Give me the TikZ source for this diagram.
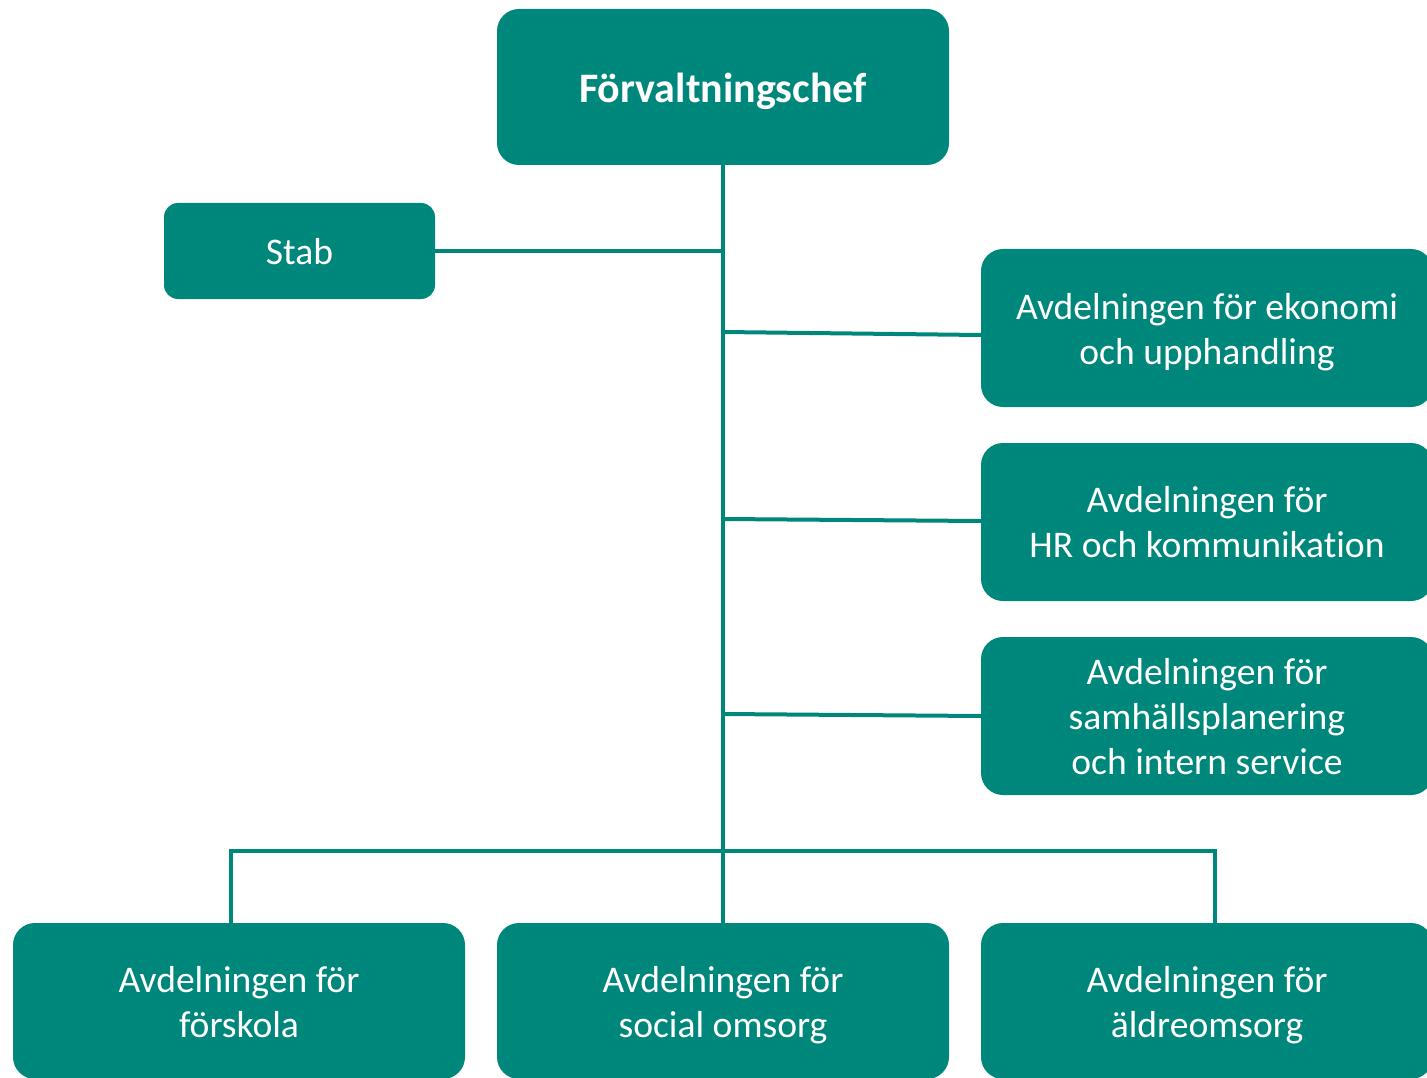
\documentclass[tikz,border=0pt]{standalone}
\usepackage{fontspec}
\setmainfont{Carlito}[Ligatures=NoCommon]
\definecolor{teal1}{HTML}{00877C}
\newcommand\mytopstrut[1]{\rule{0pt}{#1}}
\tikzset{
  x=1pt,y=-1pt,
  box/.style={fill=teal1,text=white,rounded corners=22pt,align=center,inner sep=0pt,
    minimum width=452pt,minimum height=156pt,font=\fontsize{37.6}{45}\selectfont},
  conn/.style={draw=teal1,line width=4pt}
}
\begin{document}
\begin{tikzpicture}
\useasboundingbox (0,0) rectangle (1427,1078);
\node[box,font=\fontsize{42}{50}\selectfont\bfseries] (top) at (723,87) {\mytopstrut{47pt}Förvaltningschef\strut};
\node[box,minimum width=271pt,minimum height=96pt,rounded corners=14pt] (stab) at (299.5,251) {\mytopstrut{41pt}Stab\strut};
\node[box,minimum height=158pt] (r1) at (1207,328) {\mytopstrut{41pt}Avdelningen för ekonomi\\och upphandling\strut};
\node[box,minimum height=158pt] (r2) at (1207,522) {\mytopstrut{40pt}Avdelningen för\\HR och kommunikation\strut};
\node[box,minimum height=158pt] (r3) at (1207,716) {\mytopstrut{40pt}Avdelningen för\\samhällsplanering\\och intern service\strut};
\node[box] (b1) at (239,1001) {\mytopstrut{41pt}Avdelningen för\\förskola\strut};
\node[box] (b2) at (723,1001) {\mytopstrut{41pt}Avdelningen för\\social omsorg\strut};
\node[box] (b3) at (1207,1001) {\mytopstrut{41pt}Avdelningen för\\äldreomsorg\strut};
\coordinate (j1) at (723,332);
\coordinate (j2) at (723,519);
\coordinate (j3) at (723,714);
\coordinate (bl) at (231,851);
\coordinate (br) at (1215,851);
\coordinate (bld) at (231,923);
\coordinate (brd) at (1215,923);
\path[conn] (top.south) -- (b2.north);
\path[conn] (stab.east) -- (stab.east -| top.south);
\path[conn] (j1) -- (r1.west |- 0,335);
\path[conn] (j2) -- (r2.west |- 0,521);
\path[conn] (j3) -- (r3.west |- 0,716);
\path[conn] (bld) -- (bl) -- (br) -- (brd);
\end{tikzpicture}
\end{document}
